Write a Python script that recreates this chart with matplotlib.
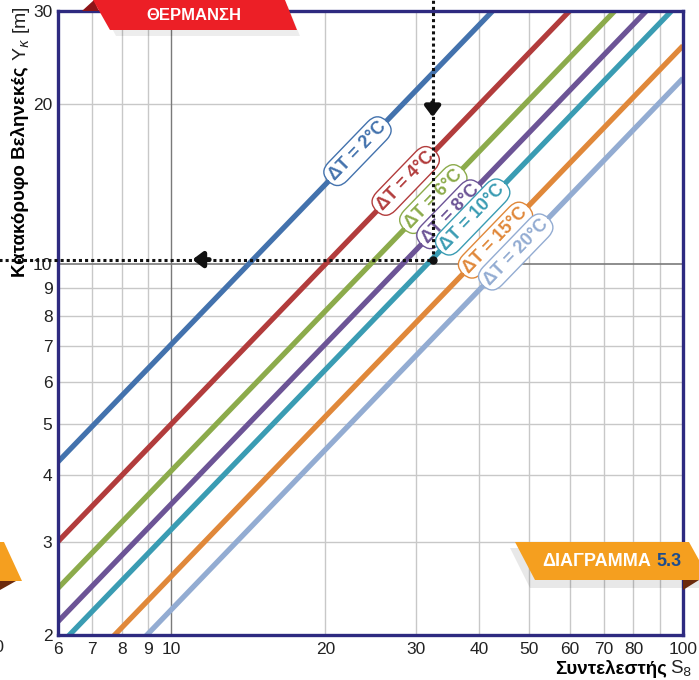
import numpy as np
import matplotlib.pyplot as plt
from matplotlib.patches import Polygon

plt.rcParams['font.family'] = ['Liberation Sans', 'DejaVu Sans']

# delta T curves, read at S = 6 and S = 100 (straight in log-log)
dT_labels = ['ΔT = 2°C', 'ΔT = 4°C', 'ΔT = 6°C', 'ΔT = 8°C',
             'ΔT = 10°C', 'ΔT = 15°C', 'ΔT = 20°C']
S_ends = [6, 100]
Y_ends = [[4.24, 70.7], [3.0, 50.0], [2.45, 40.8], [2.12, 35.4],
          [1.90, 31.6], [1.55, 25.8], [1.34, 22.4]]
colors = ['#4372ad', '#b23c3c', '#8cab4b', '#6c5496', '#3a9cb3',
          '#e0883a', '#93acd2']
label_S = [23.1, 28.7, 32.5, 35.1, 38.8, 43.0, 47.1]

x_ticks = [6, 7, 8, 9, 10, 20, 30, 40, 50, 60, 70, 80, 100]
x_grid = [7, 8, 9, 20, 30, 40, 50, 60, 70, 80, 90]
y_ticks = [2, 3, 4, 5, 6, 7, 8, 9, 10, 20, 30]

# example reading
ex_S, ex_Y = 32.4, 10.2

W, H = 699, 680
fig = plt.figure(figsize=(W / 100, H / 100), dpi=100)
ax = fig.add_axes([58 / W, 1 - 635 / H, 625 / W, 624 / H])
ax.set_xscale('log')
ax.set_yscale('log')
ax.set_xlim(6, 100)
ax.set_ylim(2, 30)

for g in x_grid:
    ax.axvline(g, color='#c8c8c8', lw=1, zorder=0)
for g in y_ticks:
    if g != 10:
        ax.axhline(g, color='#c8c8c8', lw=1, zorder=0)
ax.axvline(10, color='#7a7a7a', lw=1, zorder=0)
ax.axhline(10, color='#7a7a7a', lw=1.2, zorder=0)

for lab, ys, c, ls in zip(dT_labels, Y_ends, colors, label_S):
    ax.plot(S_ends, ys, color=c, lw=3.8, solid_capstyle='butt', zorder=2)
    ly = 10 ** np.interp(np.log10(ls), np.log10(S_ends), np.log10(ys))
    ax.text(ls, ly, lab, color=c, fontsize=13, fontweight='bold',
            rotation=46, ha='center', va='center', rotation_mode='anchor',
            bbox=dict(boxstyle='round,pad=0.25,rounding_size=0.75',
                      fc='white', ec=c, lw=1), zorder=4)

# dotted guide lines
ax.plot([ex_S, ex_S], [ex_Y, 40], color='#111111', lw=2.2, ls=(0, (1, 1)),
        clip_on=False, zorder=5)
ax.plot([4.5, ex_S], [ex_Y, ex_Y], color='#111111', lw=2.2, ls=(0, (1, 1)),
        clip_on=False, zorder=5)
ax.plot([ex_S], [ex_Y], 'o', color='#111111', ms=5, zorder=6)
ax.annotate('', xy=(ex_S, 18.7), xytext=(ex_S, 20.4),
            arrowprops=dict(arrowstyle='-|>,head_width=0.45,head_length=0.6',
                            color='#111111', lw=3.5), zorder=6)
ax.annotate('', xy=(10.85, ex_Y), xytext=(12.0, ex_Y),
            arrowprops=dict(arrowstyle='-|>,head_width=0.45,head_length=0.6',
                            color='#111111', lw=3.5), zorder=6)

ax.set_xticks(x_ticks)
ax.set_xticklabels([str(v) for v in x_ticks])
ax.set_yticks(y_ticks)
ax.set_yticklabels([str(v) for v in y_ticks])
ax.xaxis.set_minor_locator(plt.NullLocator())
ax.yaxis.set_minor_locator(plt.NullLocator())
ax.tick_params(length=0, labelsize=12.5, labelcolor='#222222')
ax.tick_params(axis='x', pad=5)
ax.tick_params(axis='y', pad=4)
for sp in ax.spines.values():
    sp.set_color('#2e2a80')
    sp.set_linewidth(2.4)


def fp(x, y):
    return (x / W, 1 - y / H)


def poly(pts, color, z=10, alpha=1.0):
    fig.add_artist(Polygon([fp(*p) for p in pts], closed=True, fc=color,
                           ec='none', alpha=alpha, transform=fig.transFigure,
                           zorder=z))


fig.canvas.draw()
r = fig.canvas.get_renderer()

# banner: heating
poly([(100, 6), (288, 6), (300, 36), (116, 36)], '#000000', z=9, alpha=0.07)
poly([(82, 11), (94, 0), (99, 11)], '#8e1418')
poly([(93, 0), (285, 0), (297, 30), (110, 30)], '#ec1f26')
fig.text(*fp(194, 15), 'ΘΕΡΜΑΝΣΗ', color='white', fontsize=12,
         fontweight='bold', ha='center', va='center', zorder=11)

# banner: diagram number
poly([(510, 548), (690, 548), (699, 566), (699, 588), (530, 588)], '#000000',
     z=9, alpha=0.09)
poly([(683, 580), (699, 580), (683, 590)], '#6b2a0c')
poly([(515, 542), (689, 542), (699, 560), (699, 580), (535, 580)], '#f59f1f')
t1 = fig.text(*fp(542, 562), 'ΔΙΑΓΡΑΜΜΑ', color='white', fontsize=13,
              fontweight='bold', ha='left', va='center', zorder=11)
bb = t1.get_window_extent(r)
fig.text((bb.x1 + 6) / W, 1 - 562 / H, '5.3', color='#1d4d8e', fontsize=13,
         fontweight='bold', ha='left', va='center', zorder=11)

# neighbouring page fragment
poly([(0, 542), (4, 542), (22, 581), (0, 581)], '#f59f1f')
poly([(0, 581), (16, 581), (0, 590)], '#6b2a0c')
fig.text(*fp(5, 648), '100', fontsize=12.5, color='#222222', ha='right',
         va='center')

# axis labels (bold + regular parts chained)
yb = fig.text(*fp(20, 277), 'Κατακόρυφο Βεληνεκές', rotation=90,
              fontsize=13.5, fontweight='bold', ha='center', va='bottom')
bb = yb.get_window_extent(r)
fig.text(21 / W, (bb.y1 + 5) / H, 'Y$_{κ}$ [m]', rotation=90, fontsize=14,
         ha='center', va='bottom', color='#222222')

xr = fig.text(*fp(692, 674), 'S$_{8}$', fontsize=13.5, ha='right',
              va='baseline', color='#222222')
bb = xr.get_window_extent(r)
fig.text((bb.x0 - 3) / W, 1 - 674 / H, 'Συντελεστής', fontsize=13.5,
         fontweight='bold', ha='right', va='baseline')

fig.savefig('out.png', dpi=100)
